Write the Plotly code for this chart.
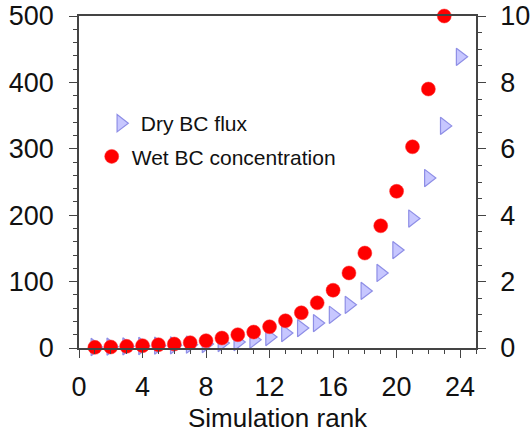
import plotly.graph_objects as go

rank_wet = list(range(1, 24))
wet_bc = [1, 1.5, 2.5, 3.5, 5, 6, 8, 11, 15, 20, 24, 32, 41, 53, 68, 87,
          113, 143, 184, 236, 303, 390, 500]
rank_dry = list(range(1, 25))
dry_bc = [0.03, 0.04, 0.05, 0.06, 0.07, 0.08, 0.1, 0.12, 0.15, 0.18, 0.25, 0.33,
          0.45, 0.6, 0.75, 1.0, 1.3, 1.72, 2.26, 2.95, 3.9, 5.12, 6.69, 8.77]

left_ticks = [0, 100, 200, 300, 400, 500]
right_ticks = [0, 2, 4, 6, 8, 10]
x_ticks = [0, 4, 8, 12, 16, 20, 24]

FONT = "Liberation Sans, Arial, sans-serif"
AX = "#444444"
TF = 27

fig = go.Figure()
fig.add_trace(go.Scatter(
    x=rank_dry, y=dry_bc, mode="markers", name="Dry BC flux", yaxis="y",
    marker=dict(symbol="triangle-right", size=15, color="rgba(196,196,255,0.95)",
                line=dict(color="#8e8ee6", width=1.2)),
    cliponaxis=False, legend="legend", showlegend=True))
fig.add_trace(go.Scatter(
    x=rank_wet, y=wet_bc, mode="markers", name="Wet BC concentration", yaxis="y2",
    marker=dict(symbol="circle", size=14, color="#ff0000",
                line=dict(color="#ff3030", width=0.5)),
    cliponaxis=False, legend="legend2", showlegend=True))

fig.update_layout(
    width=530, height=433,
    showlegend=True,
    margin=dict(l=79, r=54, t=16, b=85),
    plot_bgcolor="white", paper_bgcolor="white",
    font=dict(family=FONT, size=TF, color="#111"),
    xaxis=dict(range=[0, 25], tickvals=x_ticks, ticks="outside", ticklen=8,
               tickwidth=1.3, tickcolor=AX, showline=True, linecolor=AX,
               linewidth=1.5, mirror=True, showgrid=False, zeroline=False,
               tickfont=dict(size=TF), automargin=False, ticklabelstandoff=6,
               minor=dict(dtick=1, ticks="outside", ticklen=4, tickcolor=AX),
               title=dict(text="Simulation rank", font=dict(size=26), standoff=9)),
    yaxis=dict(range=[0, 10], side="right", tickvals=right_ticks, ticks="outside",
               ticklen=8, tickwidth=1.3, tickcolor=AX, showline=True,
               linecolor=AX, linewidth=1.5, showgrid=False, zeroline=False,
               tickfont=dict(size=TF), automargin=False, ticklabelstandoff=9,
               minor=dict(dtick=0.5, ticks="outside", ticklen=4, tickcolor=AX)),
    yaxis2=dict(range=[0, 500], side="left", overlaying="y", tickvals=left_ticks,
                ticks="outside", ticklen=8, tickwidth=1.3, tickcolor=AX,
                showline=True, linecolor=AX, linewidth=1.5, showgrid=False,
                zeroline=False, tickfont=dict(size=TF), automargin=False,
                ticklabelstandoff=10,
                minor=dict(dtick=20, ticks="outside", ticklen=4, tickcolor=AX)),
    legend=dict(x=0.055, y=0.676, xanchor="left", yanchor="middle",
                bgcolor="rgba(0,0,0,0)", font=dict(size=21)),
    legend2=dict(x=0.032, y=0.576, xanchor="left", yanchor="middle",
                 bgcolor="rgba(0,0,0,0)", font=dict(size=21)),
)

fig.write_html("out.html", config={"displayModeBar": False},
               post_script="document.body.style.margin='0';document.body.style.overflow='hidden';")
